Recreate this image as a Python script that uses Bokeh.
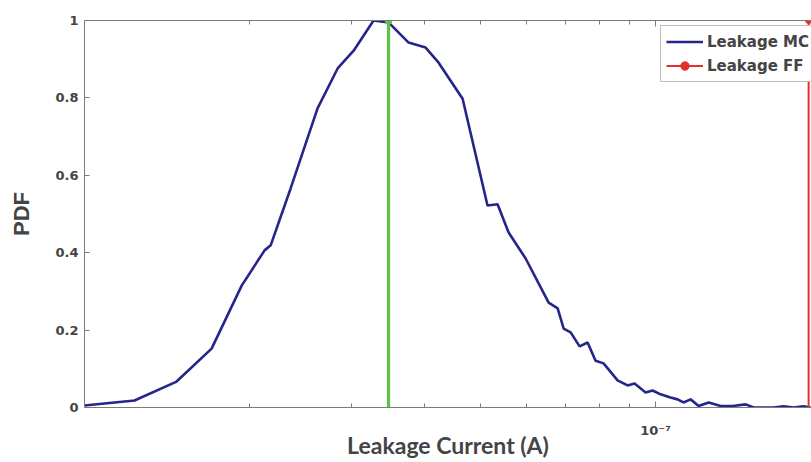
from bokeh.plotting import figure
from bokeh.models import LogAxis, FixedTicker, Legend, LegendItem, Range1d
from bokeh.embed import file_html
from bokeh.resources import INLINE

# Monte Carlo leakage-current distribution (A) and normalised PDF
mc_current = [1.040e-8, 1.268e-8, 1.498e-8, 1.721e-8, 1.939e-8, 2.123e-8, 2.175e-8,
              2.354e-8, 2.619e-8, 2.836e-8, 3.022e-8, 3.270e-8, 3.470e-8, 3.757e-8,
              4.019e-8, 4.232e-8, 4.654e-8, 5.137e-8, 5.346e-8, 5.585e-8, 5.975e-8,
              6.545e-8, 6.783e-8, 6.947e-8, 7.141e-8, 7.399e-8, 7.638e-8, 7.883e-8,
              8.137e-8, 8.601e-8, 8.949e-8, 9.202e-8, 9.612e-8, 9.881e-8, 1.020e-7,
              1.061e-7, 1.091e-7, 1.117e-7, 1.149e-7, 1.186e-7, 1.234e-7, 1.294e-7,
              1.357e-7, 1.429e-7, 1.475e-7, 1.596e-7, 1.661e-7, 1.728e-7, 1.797e-7,
              1.848e-7]
mc_pdf = [0.005, 0.018, 0.067, 0.152, 0.315, 0.406, 0.419, 0.566, 0.773, 0.876,
          0.922, 1.000, 0.995, 0.943, 0.930, 0.891, 0.798, 0.522, 0.525, 0.452,
          0.385, 0.271, 0.256, 0.204, 0.194, 0.158, 0.168, 0.121, 0.114, 0.070,
          0.057, 0.062, 0.039, 0.044, 0.034, 0.026, 0.021, 0.013, 0.021, 0.004,
          0.013, 0.004, 0.004, 0.008, 0.000, 0.000, 0.003, 0.000, 0.003, 0.000]

# Vertical markers
nominal_current = [3.47e-8, 3.47e-8]
nominal_pdf = [0.0, 1.0]
ff_current = [1.834e-7, 1.834e-7]
ff_pdf = [0.0, 1.0]

# Axis ticks
x_major_ticks = [1e-7]
x_major_labels = ["10\u207b\u2077"]
x_minor_ticks = [2e-8, 3e-8, 4e-8, 5e-8, 6e-8, 7e-8, 8e-8, 9e-8]
y_ticks = [0.0, 0.2, 0.4, 0.6, 0.8, 1.0]
y_labels = ["0", "0.2", "0.4", "0.6", "0.8", "1"]

AX = "#7a7a7a"
TICKFONT = "DejaVu Sans"

p = figure(width=811, height=462, x_axis_type="log",
           x_range=Range1d(1.04e-8, 1.855e-7), y_range=Range1d(0, 1),
           output_backend="svg", toolbar_location=None,
           min_border_left=84, min_border_right=0, min_border_top=20,
           min_border_bottom=55)
p.grid.visible = False
p.outline_line_color = None
p.background_fill_color = "white"
p.border_fill_color = "white"

mc = p.line(mc_current, mc_pdf, line_color="#25258a", line_width=2.6)
p.line(nominal_current, nominal_pdf, line_color="#5cc24a", line_width=3.2)
p.scatter(nominal_current[1:], nominal_pdf[1:], size=7, color="#5cc24a")
ffl = p.line(ff_current, ff_pdf, line_color="#e3302c", line_width=2)
ffd = p.scatter(ff_current[1:], ff_pdf[1:], size=6, color="#e3302c")

def style_x(ax, labels=True):
    ax.ticker = FixedTicker(ticks=x_major_ticks, minor_ticks=x_minor_ticks)
    ax.major_tick_in = 6
    ax.major_tick_out = 0
    ax.minor_tick_in = 4
    ax.minor_tick_out = 0
    ax.axis_line_color = AX
    ax.major_tick_line_color = AX
    ax.minor_tick_line_color = AX
    if labels:
        ax.major_label_overrides = dict(zip(x_major_ticks, x_major_labels))
        ax.major_label_text_font = TICKFONT
        ax.major_label_text_font_style = "bold"
        ax.major_label_text_font_size = "13px"
        ax.major_label_standoff = 15
    else:
        ax.major_label_text_font_size = "0px"
        ax.major_label_standoff = 0
        ax.major_label_overrides = {x_major_ticks[0]: ""}

xb = p.xaxis[0]
style_x(xb)
xb.axis_label = "Leakage Current (A)"
xb.axis_label_text_font = "Lato"
xb.axis_label_text_font_style = "bold"
xb.axis_label_text_font_size = "23px"
xb.axis_label_standoff = -10

top = LogAxis()
style_x(top, labels=False)
p.add_layout(top, "above")

ya = p.yaxis[0]
ya.ticker = FixedTicker(ticks=y_ticks)
ya.major_label_overrides = dict(zip(y_ticks, y_labels))
ya.major_tick_in = 5
ya.major_tick_out = 0
ya.minor_tick_line_color = None
ya.axis_line_color = AX
ya.major_tick_line_color = AX
ya.major_label_text_font = TICKFONT
ya.major_label_text_font_style = "bold"
ya.major_label_text_font_size = "13px"
ya.major_label_standoff = 6
ya.axis_label = "PDF"
ya.axis_label_text_font = "Liberation Sans"
ya.axis_label_text_font_style = "bold"
ya.axis_label_text_font_size = "22px"
ya.axis_label_standoff = 18

legend = Legend(items=[LegendItem(label="Leakage MC", renderers=[mc]),
                       LegendItem(label="Leakage FF", renderers=[ffl, ffd])],
                location=(576, 325), margin=0, padding=5, spacing=3,
                glyph_width=37, glyph_height=21, label_height=21,
                label_standoff=4,
                label_text_font=TICKFONT, label_text_font_style="bold",
                label_text_font_size="15px",
                border_line_color="#808080", border_line_width=1,
                background_fill_color="white", background_fill_alpha=1.0)
p.add_layout(legend)

open("out.html", "w").write(file_html(p, INLINE))
